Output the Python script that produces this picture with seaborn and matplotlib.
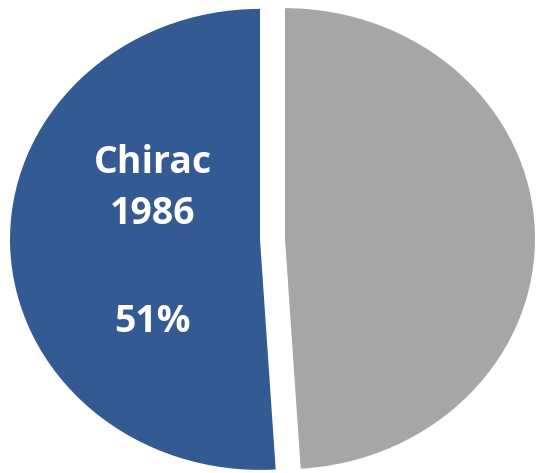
import seaborn as sns
import matplotlib.pyplot as plt

sns.set_style("white")
plt.rcParams['font.family'] = ['Open Sans', 'DejaVu Sans']

labels = ["Chirac\n1986", ""]
shares = [51, 49]
colors = ["#335a92", "#a6a6a6"]

fig, ax = plt.subplots(figsize=(5.38, 4.73), dpi=100)
fig.subplots_adjust(left=0, right=1, bottom=0, top=1)

ax.pie(shares, colors=colors, startangle=90, counterclock=True,
       explode=[0.05, 0.05], wedgeprops=dict(linewidth=0))
ax.set_aspect("auto")
ax.set_xlim(-1.09, 1.062)
ax.set_ylim(-1.015, 1.037)
ax.axis("off")

#label only the Chirac slice, like the original
ax.text(-0.48, 0.221, labels[0], ha="center", va="center", color="white",
        fontsize=27, fontweight="bold", linespacing=1.45)
ax.text(-0.48, -0.36, str(shares[0]) + "%", ha="center", va="center", color="white",
        fontsize=27, fontweight="bold")

plt.savefig("out.png", dpi=100)
